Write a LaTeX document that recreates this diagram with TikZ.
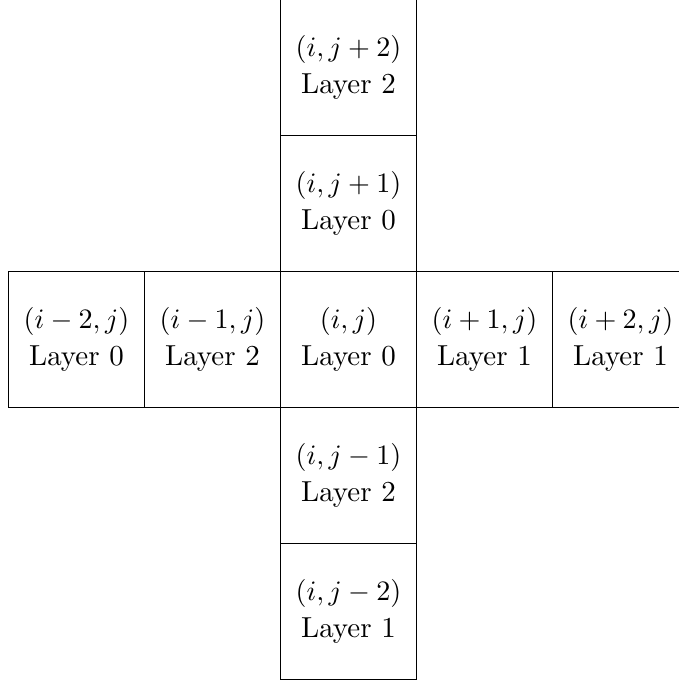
\documentclass[tikz,border=0pt]{standalone}
\begin{document}
\begin{tikzpicture}[
  cell/.style={draw, minimum width=1.7cm, minimum height=1.7cm, inner sep=0pt, align=center,
    font=\fontsize{10.3}{13}\selectfont}
]
\useasboundingbox (-4.356,-4.269) rectangle (4.119,4.243);
\node[cell] (c)   at (0,0)     {$(i,j)$\\Layer 0};
\node[cell] (e1)  at (1.7,0)   {$(i+1,j)$\\Layer 1};
\node[cell] (e2)  at (3.4,0)   {$(i+2,j)$\\Layer 1};
\node[cell] (w1)  at (-1.7,0)  {$(i-1,j)$\\Layer 2};
\node[cell] (w2)  at (-3.4,0)  {$(i-2,j)$\\Layer 0};
\node[cell] (n1)  at (0,1.7)   {$(i,j+1)$\\Layer 0};
\node[cell] (n2)  at (0,3.4)   {$(i,j+2)$\\Layer 2};
\node[cell] (s1)  at (0,-1.7)  {$(i,j-1)$\\Layer 2};
\node[cell] (s2)  at (0,-3.4)  {$(i,j-2)$\\Layer 1};
\end{tikzpicture}
\end{document}
